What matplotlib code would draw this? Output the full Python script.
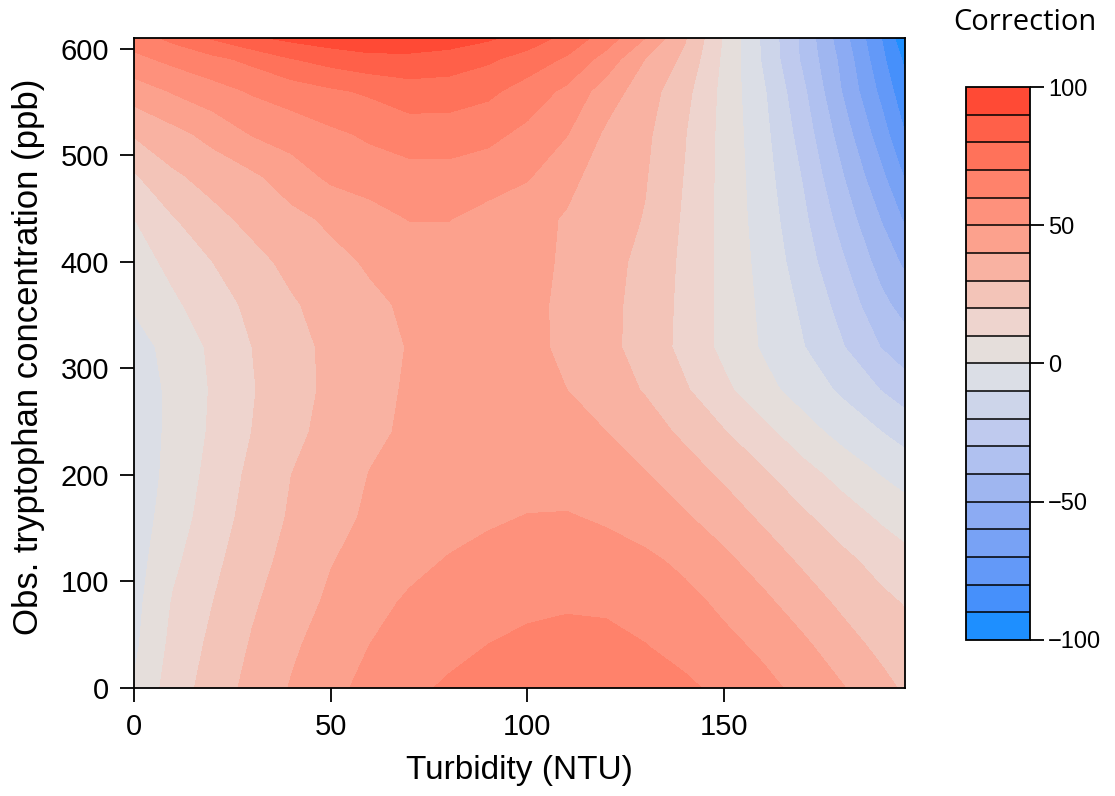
import numpy as np
import matplotlib.pyplot as plt

# values on a regular grid
turbidity = [0, 10, 20, 30, 40, 50, 60, 70, 80, 90, 100,
             110, 120, 130, 140, 150, 160, 170, 180, 190, 196]
tryptophan = [0, 40, 80, 120, 160, 200, 240, 280, 320,
              360, 400, 440, 480, 520, 560, 590, 610]
correction = [
    [1, 14.8, 24.5, 33.1, 40.7, 47.3, 52.9, 57.6, 61.5, 65, 67.3, 68, 67, 64.5, 62, 57.3, 52.7, 47.3, 40.7, 33.1, 28.5],
    [-2, 12.8, 22.3, 30.9, 38.4, 44.5, 50.1, 53.5, 56.9, 60.1, 62, 63.5, 63, 60.2, 56.4, 52.6, 48, 41.9, 34.3, 27.3, 24],
    [-3.2, 10.9, 19.9, 28.6, 35.6, 41.7, 46.7, 51.5, 54, 56.5, 58, 58.7, 58.2, 56.5, 53, 47.9, 42.2, 35.1, 28, 22.3, 19.4],
    [-4.4, 7.9, 17.5, 26, 33.3, 39.5, 43.4, 47.1, 50.6, 53, 55, 55.5, 54.5, 52, 47.7, 42.1, 35.4, 28.3, 22.4, 16.4, 12.8],
    [-5.2, 4.8, 15.2, 23.7, 31.2, 37.2, 41.3, 43.7, 46.2, 48.6, 50.4, 50.8, 48.6, 44.9, 41.1, 35.2, 28.3, 21.7, 15, 8.5, 5.5],
    [-6, 3.2, 13.3, 22.3, 30, 35.2, 40.3, 42.6, 44.5, 46, 46, 45.2, 43.4, 40.6, 34.5, 28.3, 21.4, 13.8, 6.6, -0.4, -4.5],
    [-5.2, 2.1, 11.6, 20.1, 27.4, 33.2, 38.1, 41.5, 43.5, 45, 45, 43.5, 40.1, 34.3, 28.1, 20.6, 12.7, 4.2, -3.4, -9.9, -13.5],
    [-4.7, 1.9, 11, 19.3, 26.3, 32, 36.4, 41.3, 43.3, 44.8, 43.8, 40, 34.7, 29.2, 21.1, 12.2, 3.2, -4.4, -11.7, -20.4, -25.5],
    [-3.5, 3, 11.9, 20, 26.7, 32.1, 36.3, 40.5, 43.2, 44.6, 43, 37.6, 32.6, 26, 17.1, 7.4, -1.2, -9.5, -19.3, -30.4, -35.5],
    [1, 8.3, 15.5, 22.3, 28.9, 33.7, 38.1, 41.5, 43.6, 44.8, 43, 37.5, 32.7, 26.4, 17.4, 7.2, -2.1, -11.8, -23.6, -37.4, -44],
    [5.2, 12.9, 20, 26.9, 32.6, 37.2, 41.2, 44, 45.8, 46.4, 44.5, 37.9, 33.3, 27.3, 17.8, 7, -3.3, -15, -28.6, -44, -52],
    [9.8, 19.3, 27, 32.7, 37.3, 41.7, 45.8, 50.3, 50.3, 46.5, 42.8, 39.2, 34.5, 29.4, 18.5, 6.7, -4.6, -17.8, -33.9, -50.5, -61.5],
    [18.8, 28.3, 33.7, 38.2, 45, 52, 54.8, 56.3, 56.5, 54.5, 51, 42.4, 36, 30.6, 19.5, 6.8, -5.8, -20.7, -39.2, -57.8, -71],
    [31, 37, 43.2, 50.6, 54.3, 58.1, 61.6, 65, 65, 62.7, 57.5, 50.5, 38.3, 32, 20.5, 6.8, -7.1, -24.3, -44.6, -65.4, -80],
    [44.8, 50.9, 56, 61, 64.6, 68.4, 71.5, 75.3, 75, 72.2, 65.6, 57.8, 45, 34.6, 23.1, 6.9, -8.8, -27.9, -50.4, -72.7, -87],
    [57.3, 62.6, 67.3, 72.5, 79.5, 83.8, 87, 87.3, 85.6, 81.6, 75.6, 68.6, 56, 39.7, 27.7, 7.8, -11.4, -31.8, -52.7, -77.5, -92],
    [65, 72.6, 81.1, 88.5, 92.5, 95.5, 97, 96.7, 95, 91.5, 86, 76.8, 65.3, 50, 31, 8.9, -12, -32.5, -55.7, -80, -98],
]

levels = list(range(-100, 101, 10))
band_colors = [
    '#1E8FFF', '#4690FB', '#6399F8', '#78A2F5', '#8CABF3',
    '#9FB6F0', '#B0C1F0', '#BFCAEE', '#CDD5EA', '#DBDEE6',
    '#E5DEDB', '#EED4CE', '#F3C4B8', '#F9B2A2', '#FCA18D',
    '#FE917C', '#FF826B', '#FF725A', '#FF6049', '#FF4A35',
]
cbar_ticks = [-100, -50, 0, 50, 100]

plt.rcParams['font.family'] = ['Liberation Sans', 'DejaVu Sans']

fig = plt.figure(figsize=(11.15, 7.96), dpi=100)
ax = fig.add_axes([0.1202, 0.1357, 0.6915, 0.8166])

cs = ax.contourf(turbidity, tryptophan, np.array(correction),
                 levels=levels, colors=band_colors)
ax.set_xlim(0, 196)
ax.set_ylim(0, 610)
ax.set_xticks([0, 50, 100, 150])
ax.set_yticks(range(0, 601, 100))
ax.tick_params(direction='out', length=10, width=1.3, labelsize=21, pad=8)
for sp in ax.spines.values():
    sp.set_linewidth(1.3)
ax.set_xlabel('Turbidity (NTU)', fontsize=24, labelpad=10)
ax.set_ylabel('Obs. tryptophan concentration (ppb)', fontsize=25)
ax.yaxis.set_label_coords(-0.115, 0.51)

cax = fig.add_axes([0.8664, 0.196, 0.0574, 0.6947])
cb = fig.colorbar(cs, cax=cax, ticks=cbar_ticks)
for lv in levels[1:-1]:
    cax.axhline(lv, color='black', lw=1.1)
cb.outline.set_linewidth(1.3)
cax.tick_params(direction='out', length=10, width=1.3, labelsize=17, pad=3)
fig.text(0.919, 0.972, 'Correction', ha='center', va='center', fontsize=21,
         family=['Open Sans', 'DejaVu Sans'])

fig.savefig('out.png', dpi=100)
